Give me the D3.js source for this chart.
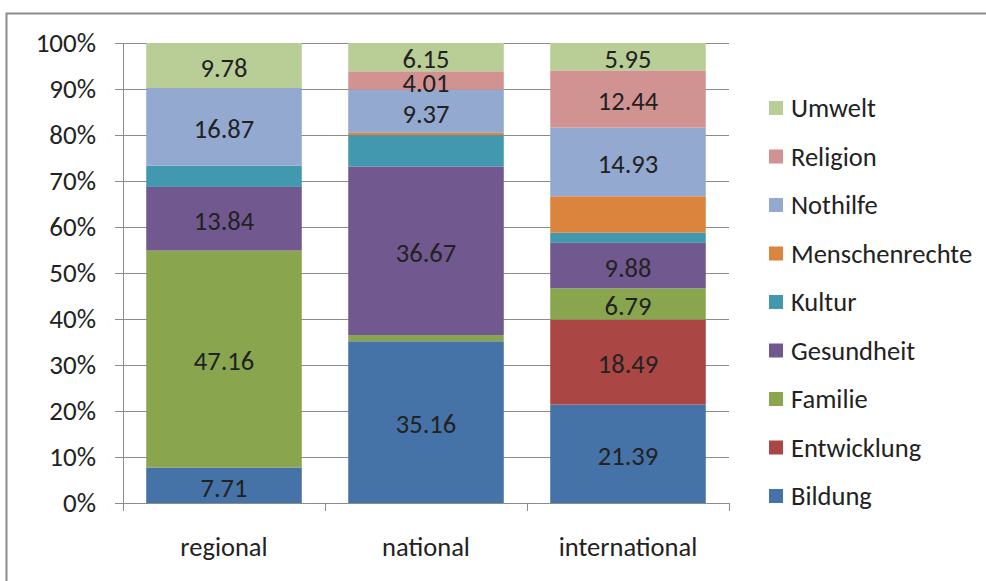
<!DOCTYPE html>
<html>
<head>
<meta charset="utf-8">
<script src="https://cdn.jsdelivr.net/npm/d3@7"></script>
<style>
  body { margin: 0; background: #fff; }
  text { font-family: Carlito, Lato, "Open Sans", sans-serif; fill: #222; }
</style>
</head>
<body>
<div id="chart"></div>
<script>
"use strict";

// categories and series, bottom of the stack first
var categories = ["regional", "national", "international"];
var seriesNames = ["Bildung", "Entwicklung", "Familie", "Gesundheit", "Kultur",
                   "Menschenrechte", "Nothilfe", "Religion", "Umwelt"];
var seriesColors = ["#4572A7", "#AA4643", "#89A54E", "#71588F", "#4198AF",
                    "#DB843D", "#93A9CF", "#D19392", "#B9CD96"];

// values per category, in order of seriesNames
var regional      = [7.71, 0, 47.16, 13.84, 4.64, 0, 16.87, 0, 9.78];
var national      = [35.16, 0, 1.34, 36.67, 6.80, 0.50, 9.37, 4.01, 6.15];
var international = [21.39, 18.49, 6.79, 9.88, 2.20, 7.93, 14.93, 12.44, 5.95];

// which series get a value label
var labelled = [true, true, true, true, false, false, true, true, true];

var yTicks = [0, 10, 20, 30, 40, 50, 60, 70, 80, 90, 100];

var W = 986, H = 581;
var margin = {top: 43, left: 123, bottom: 78, right: 257};
var width = W - margin.left - margin.right,
    height = H - margin.top - margin.bottom;

var svg = d3.select("#chart").append("svg")
    .attr("width", W).attr("height", H);

// outer frame
svg.append("rect")
    .attr("x", 6.5).attr("y", 13.5)
    .attr("width", W + 10).attr("height", H + 10)
    .attr("fill", "none").attr("stroke", "#8c8c8c").attr("stroke-width", 2);

var g = svg.append("g")
    .attr("transform", "translate(" + margin.left + "," + margin.top + ")");

// build rows for d3.stack
var rows = categories.map(function(c, i) {
  var vals = [regional, national, international][i];
  var row = {category: c};
  seriesNames.forEach(function(s, j) { row[s] = vals[j]; });
  return row;
});

var stacked = d3.stack().keys(seriesNames).offset(d3.stackOffsetExpand)(rows);

var x = d3.scaleBand().domain(categories).range([0, width])
    .paddingInner(0.23).paddingOuter(0.115);
var y = d3.scaleLinear().domain([0, 1]).range([height, 0]);

// gridlines
g.append("g")
  .selectAll("line")
  .data(yTicks)
  .join("line")
    .attr("x1", -8).attr("x2", width)
    .attr("y1", function(d) { return Math.round(y(d / 100)) + 0.5; })
    .attr("y2", function(d) { return Math.round(y(d / 100)) + 0.5; })
    .attr("stroke", "#8c8c8c").attr("stroke-width", 1);

// y labels
g.append("g")
  .selectAll("text")
  .data(yTicks)
  .join("text")
    .attr("x", -27)
    .attr("y", function(d) { return y(d / 100); })
    .attr("dy", "0.35em")
    .attr("text-anchor", "end")
    .style("font-size", "27px")
    .text(function(d) { return d + "%"; });

// bars
var layer = g.selectAll(".layer")
  .data(stacked)
  .join("g")
    .attr("class", "layer")
    .attr("fill", function(d, i) { return seriesColors[i]; });

layer.selectAll("rect")
  .data(function(d) { return d; })
  .join("rect")
    .attr("x", function(d) { return x(d.data.category); })
    .attr("width", x.bandwidth())
    .attr("y", function(d) { return y(d[1]); })
    .attr("height", function(d) { return y(d[0]) - y(d[1]); });

// value labels
layer.filter(function(d, i) { return labelled[i]; })
  .selectAll("text")
  .data(function(d) { return d.filter(function(p) { return p.data[d.key] > 2; })
                               .map(function(p) { return {p: p, v: p.data[d.key]}; }); })
  .join("text")
    .attr("x", function(d) { return x(d.p.data.category) + x.bandwidth() / 2; })
    .attr("y", function(d) { return (y(d.p[0]) + y(d.p[1])) / 2 + 2; })
    .attr("dy", "0.35em")
    .attr("text-anchor", "middle")
    .style("font-size", "26.5px")
    .text(function(d) { return d.v.toFixed(2); });

// axes lines
g.append("line")
    .attr("x1", 0.5).attr("x2", 0.5).attr("y1", 0).attr("y2", height)
    .attr("stroke", "#8c8c8c");
g.append("line")
    .attr("x1", 0).attr("x2", width).attr("y1", height + 0.5).attr("y2", height + 0.5)
    .attr("stroke", "#8c8c8c");

// x ticks at band boundaries
var step = x.step();
var xTickPos = d3.range(categories.length + 1).map(function(i) {
  return x(categories[0]) - x.paddingInner() * step / 2 + i * step;
});
g.append("g")
  .selectAll("line")
  .data(xTickPos)
  .join("line")
    .attr("x1", function(d) { return Math.round(d) + 0.5; })
    .attr("x2", function(d) { return Math.round(d) + 0.5; })
    .attr("y1", height).attr("y2", height + 8)
    .attr("stroke", "#8c8c8c");

// x labels
g.append("g")
  .selectAll("text")
  .data(categories)
  .join("text")
    .attr("x", function(d) { return x(d) + x.bandwidth() / 2; })
    .attr("y", height + 44)
    .attr("dy", "0.35em")
    .attr("text-anchor", "middle")
    .style("font-size", "26.5px")
    .text(function(d) { return d; });

// legend, top entry is the last series
var legendOrder = seriesNames.map(function(s, i) { return i; }).reverse();
var legend = svg.append("g")
  .selectAll("g")
  .data(legendOrder)
  .join("g")
    .attr("transform", function(d, i) { return "translate(769," + (108 + i * 48.5) + ")"; });

legend.append("rect")
    .attr("x", 0).attr("y", -7).attr("width", 14).attr("height", 14)
    .attr("fill", function(d) { return seriesColors[d]; });

legend.append("text")
    .attr("x", 22).attr("y", 0).attr("dy", "0.35em")
    .style("font-size", "26.5px")
    .text(function(d) { return seriesNames[d]; });
</script>
</body>
</html>
